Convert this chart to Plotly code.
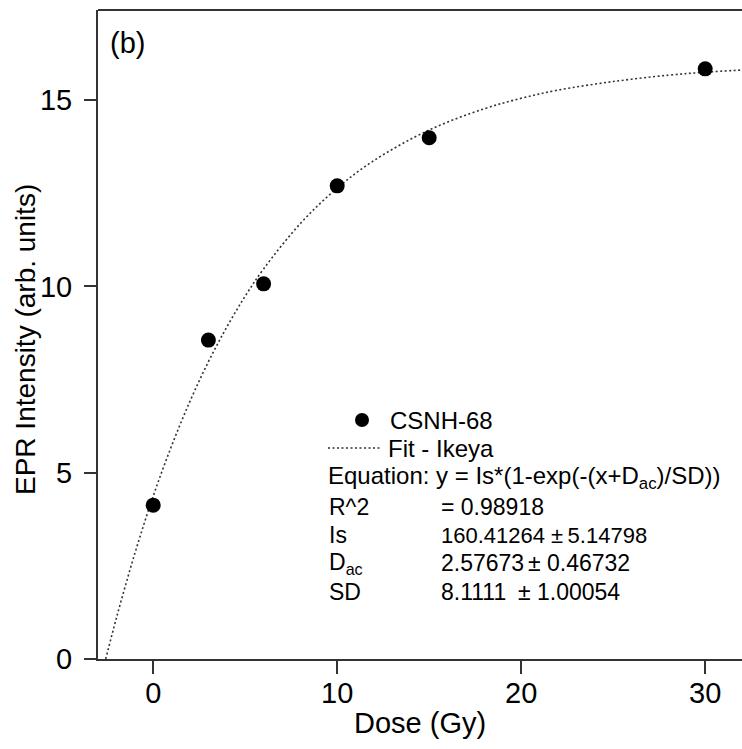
import plotly.graph_objects as go

# Measured data (Dose in Gy, EPR intensity in arb. units)
dose = [0, 3, 6, 10, 15, 30]
intensity = [4.13, 8.56, 10.07, 12.70, 13.99, 15.84]

# Fit curve
fit_x = [-2.58, -2, -1, 0, 1, 2, 3, 4, 5, 6, 8, 10, 12, 15, 18, 20, 22, 25, 28, 30, 32]
fit_y = [0.0, 1.10, 2.83, 4.37, 5.72, 6.92, 7.98, 8.91, 9.74, 10.47, 11.69, 12.64,
         13.38, 14.20, 14.77, 15.05, 15.27, 15.50, 15.67, 15.75, 15.81]

x_ticks = [0, 10, 20, 30]
y_ticks = [0, 5, 10, 15]

W, H = 742, 749
L, R, T, B = 98, 0, 10, 90
PW, PH = W - L - R, H - T - B
FONT = "Arial, Liberation Sans, sans-serif"
AX = "#333333"


def px(x):
    return (x - L) / PW


def py(y):
    return (H - B - y) / PH


fig = go.Figure()
fig.add_trace(go.Scatter(x=fit_x, y=fit_y, mode="lines", name="Fit - Ikeya",
                         line=dict(color="#333333", width=1.6, dash="2px,2.5px", shape="spline"),
                         showlegend=False))
fig.add_trace(go.Scatter(x=dose, y=intensity, mode="markers", name="CSNH-68",
                         marker=dict(color="black", size=15), showlegend=False))

ann = []


def txt(x, y, s, size=23, xanchor="left", angle=0):
    ann.append(dict(x=px(x), y=py(y), xref="paper", yref="paper", text=s,
                    showarrow=False, xanchor=xanchor, yanchor="middle", textangle=angle,
                    font=dict(size=size, color="black", family=FONT)))


txt(108, 43, "(b)", size=29)
txt(388, 420, "CSNH-68", size=24)
txt(386, 448, "Fit - Ikeya", size=24)
txt(326, 477, "Equation: y = Is*(1-exp(-(x+D<sub>ac</sub>)/SD))", size=24)
txt(327, 507, "R^2")
txt(439, 507, "= 0.98918")
txt(327, 535, "Is")
txt(439, 535, "160.41264 ±\u20095.14798", size=22)
txt(327, 563, "D<sub>ac</sub>")
txt(439, 563, "2.57673")
txt(526, 563, "± 0.46732")
txt(327, 592, "SD")
txt(439, 592, "8.1111")
txt(516, 592, "± 1.00054")
# axis titles
txt(420, 723, "Dose (Gy)", size=29, xanchor="center")
txt(25, 340, "EPR Intensity (arb. units)", size=28, xanchor="center", angle=-90)

shapes = [
    # top frame line
    dict(type="line", xref="paper", yref="paper", x0=0, x1=1, y0=1, y1=1,
         line=dict(color=AX, width=2)),
    # legend line sample
    dict(type="line", xref="paper", yref="paper", x0=px(328), x1=px(382), y0=py(448), y1=py(448),
         line=dict(color="#333333", width=1.6, dash="2px,2.5px")),
    # legend marker sample
    dict(type="circle", xref="paper", yref="paper", x0=px(355), x1=px(369), y0=py(427), y1=py(413),
         fillcolor="black", line=dict(color="black", width=0)),
]

fig.update_layout(
    width=W, height=H,
    margin=dict(l=L, r=R, t=T, b=B, pad=0),
    paper_bgcolor="white", plot_bgcolor="white",
    font=dict(family=FONT, color="black"),
    annotations=ann, shapes=shapes,
    showlegend=False,
    xaxis=dict(range=[-3, 32], tickvals=x_ticks, ticks="outside", ticklen=13, tickwidth=2,
               tickcolor=AX, showline=True, linecolor=AX, linewidth=2, showgrid=False,
               zeroline=False, tickfont=dict(size=29, family=FONT, color="black"),
               ticklabelstandoff=-6, automargin=False),
    yaxis=dict(range=[0, 17.42], tickvals=y_ticks, ticks="outside", ticklen=12, tickwidth=2,
               tickcolor=AX, showline=True, linecolor=AX, linewidth=2, showgrid=False,
               zeroline=False, tickfont=dict(size=29, family=FONT, color="black"),
               ticklabelstandoff=6, automargin=False),
)

fig.write_html("out.html", config={"displayModeBar": False},
               post_script="document.body.style.margin='0';document.body.style.padding='0';")
